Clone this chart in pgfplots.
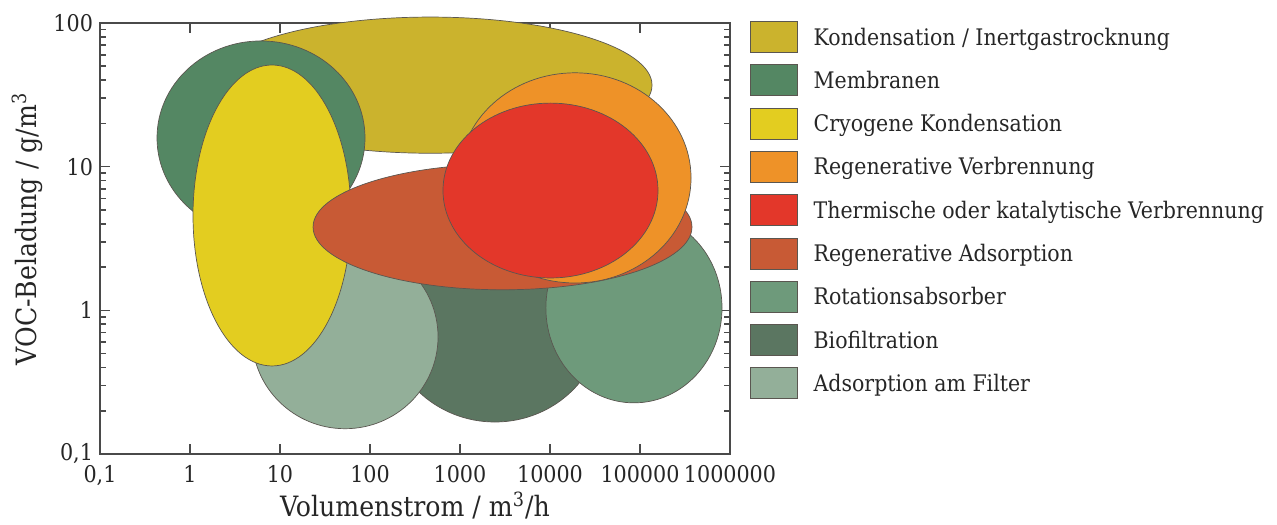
\documentclass[border=0pt]{standalone}
\usepackage{fontspec}
\setmainfont{DejaVu Serif Condensed}
\usepackage{pgfplots}
\pgfplotsset{compat=1.18}
\usetikzlibrary{calc}

\definecolor{axisgray}{HTML}{4A4A4A}
\definecolor{edgegray}{HTML}{5A5650}
\definecolor{cOlive}{HTML}{CBB32D}
\definecolor{cMembran}{HTML}{548763}
\definecolor{cCryo}{HTML}{E3CD20}
\definecolor{cRegVerb}{HTML}{EE9228}
\definecolor{cTherm}{HTML}{E3372A}
\definecolor{cRegAds}{HTML}{C85A35}
\definecolor{cRotation}{HTML}{6E9A7B}
\definecolor{cBio}{HTML}{5B7661}
\definecolor{cFilter}{HTML}{93AF99}

% application range of a process: fill colour,
% flow rate from / to (m^3/h), VOC load from / to (g/m^3)
\newcommand\region[5]{%
  \draw[draw=edgegray, line width=0.35pt, fill=#1]
    let \p1=(axis cs:#2,#4), \p2=(axis cs:#3,#5) in
    ($(\p1)!0.5!(\p2)$) ellipse [x radius={0.5*(\x2-\x1)}, y radius={0.5*(\y2-\y1)}];
}

\begin{document}
\begin{tikzpicture}
\useasboundingbox (-50pt,-35pt) rectangle (588.5pt,227pt);
\begin{axis}[
  scale only axis, width=315pt, height=215.5pt,
  xmode=log, ymode=log,
  xmin=0.1, xmax=1e6, ymin=0.1, ymax=100,
  clip=false,
  xtick={0.1,1,10,100,1000,10000,100000,1000000},
  xticklabels={{0,1},1,10,100,1000,10000,100000,1000000},
  ytick={0.1,1,10,100},
  yticklabels={{0,1},1,10,100},
  xminorticks=false,
  minor ytick={0.2,0.3,0.4,0.5,0.6,0.7,0.8,0.9,2,3,4,5,6,7,8,9,20,30,40,50,60,70,80,90},
  tick align=inside,
  major tick length=5pt, minor tick length=3pt,
  tick style={draw=axisgray, line width=0.8pt},
  axis line style={draw=axisgray, line width=0.8pt},
  /pgf/number format/assume math mode=true,
  tick label style={font=\fontsize{11.5}{13}\selectfont, text=black!85},
  xticklabel style={yshift=-2pt},
  label style={font=\fontsize{14}{16}\selectfont, text=black!85},
  xlabel={Volumenstrom / m\textsuperscript{3}/h},
  ylabel={VOC-Beladung / g/m\textsuperscript{3}},
  xlabel style={at={(axis description cs:0.5,-0.146)}, anchor=base},
  ylabel style={at={(axis description cs:-0.1,0.522)}, anchor=base},
  legend style={at={(1.0317,1.0046)}, anchor=north west, draw=none, fill=none,
    inner sep=0pt, outer sep=0pt, row sep=5.8pt, column sep=8pt,
    font=\fontsize{11.4}{13}\selectfont, text=black!85,
    nodes={inner sep=0pt, text height=8.2pt, text depth=0pt}},
  legend cell align=left,
  legend image code/.code={\draw[#1] (0pt,-7.75pt) rectangle (23.5pt,7.75pt);},
]
\region{cOlive}{1.6}{136000}{12.4}{110}
\region{cMembran}{0.43}{88}{3.35}{75}
\region{cBio}{154}{38800}{0.167}{4.7}
\region{cFilter}{4.9}{570}{0.15}{2.85}
\region{cRotation}{9000}{815000}{0.227}{4.76}
\region{cCryo}{1.08}{61.5}{0.41}{51}
\region{cRegAds}{23.3}{378000}{1.39}{10.4}
\region{cRegVerb}{975}{369000}{1.55}{45}
\region{cTherm}{647}{158500}{1.68}{27.7}

\addlegendimage{fill=cOlive, draw=edgegray, line width=0.35pt}
\addlegendentry{Kondensation / Inertgastrocknung}
\addlegendimage{fill=cMembran, draw=edgegray, line width=0.35pt}
\addlegendentry{Membranen}
\addlegendimage{fill=cCryo, draw=edgegray, line width=0.35pt}
\addlegendentry{Cryogene Kondensation}
\addlegendimage{fill=cRegVerb, draw=edgegray, line width=0.35pt}
\addlegendentry{Regenerative Verbrennung}
\addlegendimage{fill=cTherm, draw=edgegray, line width=0.35pt}
\addlegendentry{Thermische oder katalytische Verbrennung}
\addlegendimage{fill=cRegAds, draw=edgegray, line width=0.35pt}
\addlegendentry{Regenerative Adsorption}
\addlegendimage{fill=cRotation, draw=edgegray, line width=0.35pt}
\addlegendentry{Rotationsabsorber}
\addlegendimage{fill=cBio, draw=edgegray, line width=0.35pt}
\addlegendentry{Biofiltration}
\addlegendimage{fill=cFilter, draw=edgegray, line width=0.35pt}
\addlegendentry{Adsorption am Filter}
\end{axis}
\end{tikzpicture}
\end{document}
